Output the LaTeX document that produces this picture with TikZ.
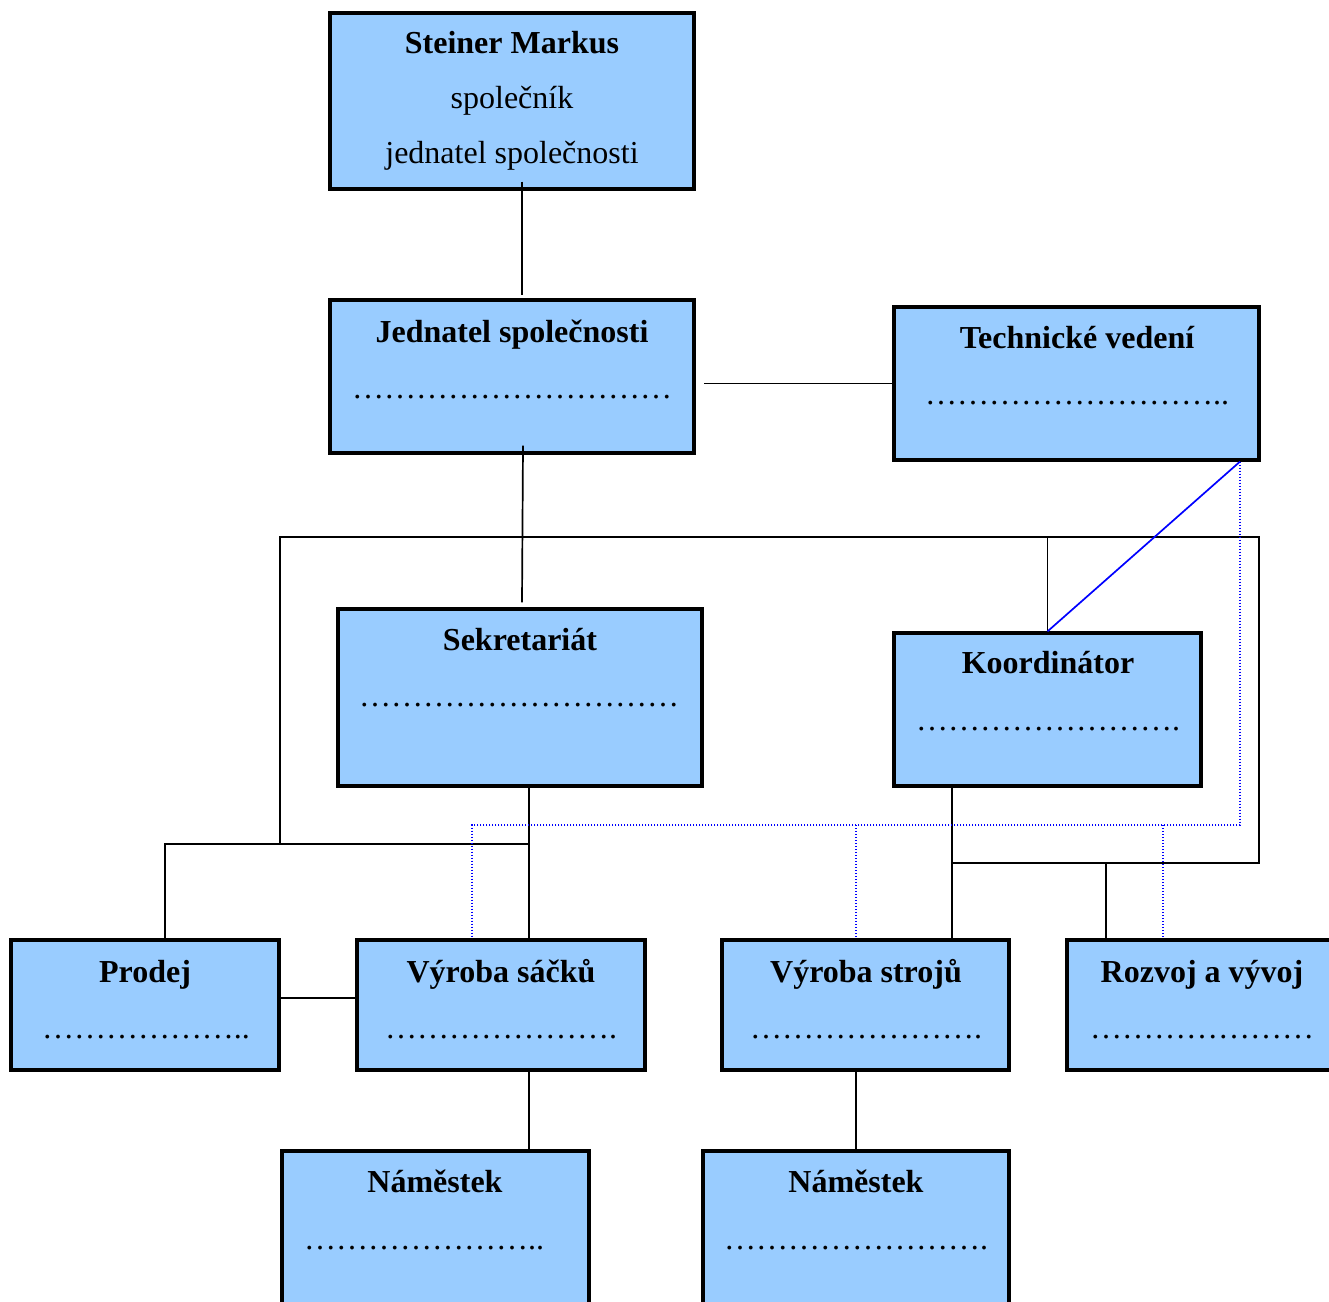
\documentclass[tikz,border=0pt]{standalone}
\usepackage{fontspec}
\setmainfont{Liberation Serif}
\usetikzlibrary{calc}
\definecolor{boxfill}{HTML}{99CCFF}
\definecolor{pureblue}{HTML}{0000FF}
% a row of n ellipses
\newcommand\dotrow[1]{\foreach \k in {1,...,#1}{…}}
\tikzset{
  orgbox/.style={draw=black, line width=1.6pt, fill=boxfill, rectangle, inner sep=0pt},
  title/.style={anchor=base, inner sep=0pt, font=\fontsize{16}{19}\selectfont\bfseries},
  plain/.style={anchor=base, inner sep=0pt, font=\fontsize{16}{19}\selectfont},
  link/.style={draw=black, line width=0.85pt},
  blueline/.style={draw=pureblue, line width=0.85pt},
  bluedot/.style={draw=pureblue, line width=0.7pt, dash pattern=on 0.7pt off 0.8pt},
}
\begin{document}
\begin{tikzpicture}[x=0.5pt, y=-0.5pt]
\clip (0,0) rectangle (1329,1302);
\fill[white] (0,0) rectangle (1329,1302);

% boxes
\node[orgbox, minimum width=182pt, minimum height=88pt]   (steiner)  at (512,101)    {};
\node[orgbox, minimum width=182pt, minimum height=76.5pt] (jednatel) at (512,376.5)  {};
\node[orgbox, minimum width=182.5pt, minimum height=76.5pt] (tech)   at (1076.5,383.5) {};
\node[orgbox, minimum width=182pt, minimum height=88.5pt] (sekr)     at (520,697.5)  {};
\node[orgbox, minimum width=153.5pt, minimum height=76.5pt] (koord)  at (1047.5,709.5) {};
\node[orgbox, minimum width=134pt, minimum height=65pt]   (prodej)   at (145,1005)   {};
\node[orgbox, minimum width=144pt, minimum height=65pt]   (vsacku)   at (501,1005)   {};
\node[orgbox, minimum width=143.5pt, minimum height=65pt] (vstroju)  at (865.5,1005) {};
\node[orgbox, minimum width=139pt, minimum height=65pt]   (rozvoj)   at (1206,1005)  {};
\node[orgbox, minimum width=153.5pt, minimum height=94.5pt] (nam1)   at (435.5,1245.5) {};
\node[orgbox, minimum width=153pt, minimum height=94.5pt] (nam2)     at (856,1245.5) {};

% texts
\node[title] (steinerA) at (512,53)  {Steiner Markus};
\node[plain] (steinerB) at (512,108) {společník};
\node[plain] (steinerC) at (512,163) {jednatel společnosti};

\node[title] (jednatelA) at (512,342) {Jednatel společnosti};
\node[plain] (jednatelB) at (512,398) {\dotrow{10}};

\node[title] (techA) at (1077,348) {Technické vedení};
\node[plain] (techB) at (1077,404) {\dotrow{9}..};

\node[title] (sekrA) at (520,650) {Sekretariát};
\node[plain] (sekrB) at (519,706) {\dotrow{10}};

\node[title] (koordA) at (1048,673) {Koordinátor};
\node[plain] (koordB) at (1048,730) {\dotrow{8}.};

\node[title] (prodejA) at (145,982)  {Prodej};
\node[plain] (prodejB) at (146,1038) {\dotrow{6}..};

\node[title] (vsackuA) at (501,982)  {Výroba sáčků};
\node[plain] (vsackuB) at (501,1038) {\dotrow{7}.};

\node[title] (vstrojuA) at (866,982)  {Výroba strojů};
\node[plain] (vstrojuB) at (866,1038) {\dotrow{7}.};

\node[title] (rozvojA) at (1202,982)  {Rozvoj a vývoj};
\node[plain] (rozvojB) at (1202,1038) {\dotrow{7}};

\node[title] (nam1A) at (435,1192) {Náměstek};
\node[plain] (nam1B) at (424,1249) {\dotrow{7}..};

\node[title] (nam2A) at (856,1192) {Náměstek};
\node[plain] (nam2B) at (856,1249) {\dotrow{8}.};

% junction points of the connector frame
\coordinate (frameTL) at (280,537);
\coordinate (frameTR) at (1259,537);
\coordinate (frameBL) at (280,844);
\coordinate (salesJ)  at (529,844);
\coordinate (frameBR) at (1259,863);
\coordinate (devJ)    at (1106,863);
\coordinate (prodJ)   at (952,863);
\coordinate (techJ)   at (1240,825);
\coordinate (bagsJ)   at (472,825);
\coordinate (machJ)   at (856,825);
\coordinate (rdJ)     at (1163,825);

% solid connectors
\draw[link] ($(steiner.south)+(10,-9)$) -- ($(jednatel.north)+(10,-3)$);
\draw[link] (tech.west) -- ($(jednatel.east |- tech.west)+(8,0)$);
\draw[link] ($(jednatel.south)+(11,-9)$) -- ($(sekr.north)+(2,-5)$);
\draw[link] (frameBL) -- (frameTL) -- (frameTR) -- (frameBR) -- (prodJ);
\draw[link] (koord.north) -- (koord.north |- frameTL);
\draw[link] ($(sekr.south)+(9,0)$) -- ($(vsacku.north)+(28,0)$);
\draw[link] ($(prodej.north)+(20,0)$) |- (salesJ);
\draw[link] ($(prodej.east)+(0,-7)$) -- ($(vsacku.west)+(0,-7)$);
\draw[link] ($(koord.south)+(-95.5,0)$) -- ($(vstroju.north)+(86.5,0)$);
\draw[link] (devJ) -- ($(rozvoj.north)+(-100,0)$);
\draw[link] ($(vsacku.south)+(28,0)$) coordinate (nam1top) -- (nam1top |- nam1.north);
\draw[link] (nam2.north) -- (nam2.north |- vstroju.south);

% blue lines
\draw[blueline] ($(tech.south)+(163.5,0)$) -- (koord.north);
\draw[bluedot] ($(tech.south)+(163.5,0)$) -- (techJ) -- (bagsJ) -- ($(vsacku.north)+(-29,0)$);
\draw[bluedot] (machJ) -- ($(vstroju.north)+(-9.5,0)$);
\draw[bluedot] (rdJ) -- ($(rozvoj.north)+(-43,0)$);
\end{tikzpicture}
\end{document}
